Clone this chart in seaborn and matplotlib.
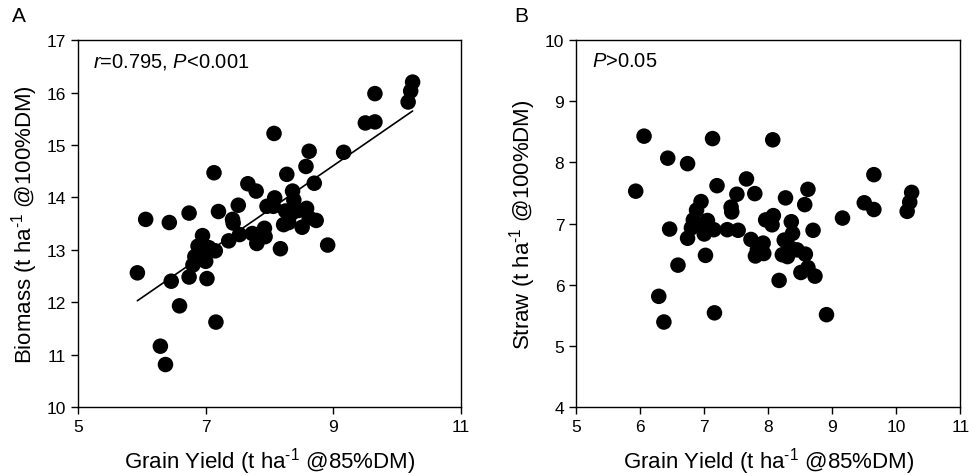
import matplotlib
matplotlib.use("Agg")
import matplotlib.pyplot as plt
import seaborn as sns
import pandas as pd

grain = [6.06, 7.13, 8.07, 6.43, 6.74, 9.65, 7.66, 5.93, 7.20, 8.62,
         7.79, 7.51, 8.27, 10.24, 10.21, 10.17, 9.50, 9.65, 8.57, 6.95,
         7.42, 7.43, 9.16, 6.46, 6.74, 7.36, 7.53, 8.36, 8.38, 8.25,
         8.70, 7.73, 7.92, 7.02, 6.59, 8.17, 6.29, 6.37, 7.16, 8.91,
         6.88, 6.83, 6.80, 7.05, 7.15, 7.00, 6.95, 7.96, 8.08, 8.06,
         7.83, 7.80, 7.93, 8.22, 8.30, 8.35, 8.45, 8.58, 8.51, 8.62, 8.73]
straw = [8.43, 8.39, 8.37, 8.07, 7.98, 7.80, 7.73, 7.53, 7.62, 7.56,
         7.49, 7.48, 7.42, 7.51, 7.35, 7.20, 7.34, 7.23, 7.31, 7.36,
         7.27, 7.19, 7.09, 6.91, 6.76, 6.90, 6.89, 7.03, 6.84, 6.73,
         6.89, 6.74, 6.68, 6.48, 6.32, 6.07, 5.81, 5.39, 5.54, 5.51,
         7.22, 7.06, 6.93, 7.05, 6.90, 6.83, 6.98, 7.06, 7.13, 6.98,
         6.57, 6.47, 6.51, 6.49, 6.46, 6.60, 6.57, 6.50, 6.20, 6.28, 6.14]
biomass = [13.58, 14.47, 15.22, 13.52, 13.70, 15.98, 14.26, 12.56, 13.73, 14.88,
           14.12, 13.85, 14.44, 16.20, 16.03, 15.82, 15.42, 15.44, 14.59, 13.27,
           13.58, 13.51, 14.86, 12.40, 12.48, 13.17, 13.29, 14.12, 13.95, 13.74,
           14.27, 13.31, 13.41, 12.45, 11.93, 13.02, 11.16, 10.81, 11.62, 13.09,
           13.07, 12.87, 12.71, 13.04, 12.98, 12.78, 12.89, 13.83, 13.99, 13.83,
           13.23, 13.12, 13.25, 13.48, 13.52, 13.70, 13.75, 13.79, 13.43, 13.61, 13.56]

xticks_a = [5, 7, 9, 11]
yticks_a = [10, 11, 12, 13, 14, 15, 16, 17]
xticks_b = [5, 6, 7, 8, 9, 10, 11]
yticks_b = [4, 5, 6, 7, 8, 9, 10]

df = pd.DataFrame({"grain": grain, "straw": straw, "biomass": biomass})

sns.set_theme(style="ticks")
plt.rcParams["font.family"] = ["Liberation Sans", "DejaVu Sans"]
plt.rcParams["mathtext.fontset"] = "custom"
plt.rcParams["mathtext.rm"] = "Liberation Sans"
plt.rcParams["mathtext.it"] = "Liberation Sans:italic"
plt.rcParams["text.color"] = "black"
plt.rcParams["axes.labelcolor"] = "black"
plt.rcParams["xtick.color"] = "black"
plt.rcParams["ytick.color"] = "black"

fig = plt.figure(figsize=(9.7, 4.77), dpi=100)
ax1 = fig.add_axes([0.0804, 0.1447, 0.395, 0.769])
ax2 = fig.add_axes([0.594, 0.1447, 0.396, 0.769])

sc_kws = dict(s=125, color="black", edgecolor="none", alpha=1)
sns.regplot(data=df, x="grain", y="biomass", ax=ax1, ci=None,
            scatter_kws=sc_kws, line_kws=dict(color="black", lw=1.2))
sns.scatterplot(data=df, x="grain", y="straw", ax=ax2, **sc_kws)

sup = r"$^{\text{-1}}$"
xlabel = "Grain Yield (t ha" + sup + " @85%DM)"
for ax, xt, yt, ylab in [(ax1, xticks_a, yticks_a, "Biomass (t ha" + sup + " @100%DM)"),
                         (ax2, xticks_b, yticks_b, "Straw (t ha" + sup + " @100%DM)")]:
    ax.set_xlim(xt[0], xt[-1])
    ax.set_ylim(yt[0], yt[-1])
    ax.set_xticks(xt)
    ax.set_yticks(yt)
    ax.set_xlabel(xlabel, fontsize=16, labelpad=8)
    ax.set_ylabel(ylab, fontsize=16, labelpad=5)
    ax.tick_params(labelsize=12.5, length=5, width=1, color="black",
                   labelcolor="black", direction="out")
    for sp in ax.spines.values():
        sp.set_visible(True)
        sp.set_color("black")
        sp.set_linewidth(1.0)

ax1.text(0.04, 0.97, r"$\it{r}$=0.795, $\it{P}$<0.001", transform=ax1.transAxes,
         fontsize=14.5, va="top", ha="left")
ax2.text(0.04, 0.97, r"$\it{P}$>0.05", transform=ax2.transAxes,
         fontsize=14.5, va="top", ha="left")
fig.text(0.012, 0.965, "A", fontsize=15, va="center", ha="left")
fig.text(0.53, 0.965, "B", fontsize=15, va="center", ha="left")

fig.savefig("out.png", dpi=100)
